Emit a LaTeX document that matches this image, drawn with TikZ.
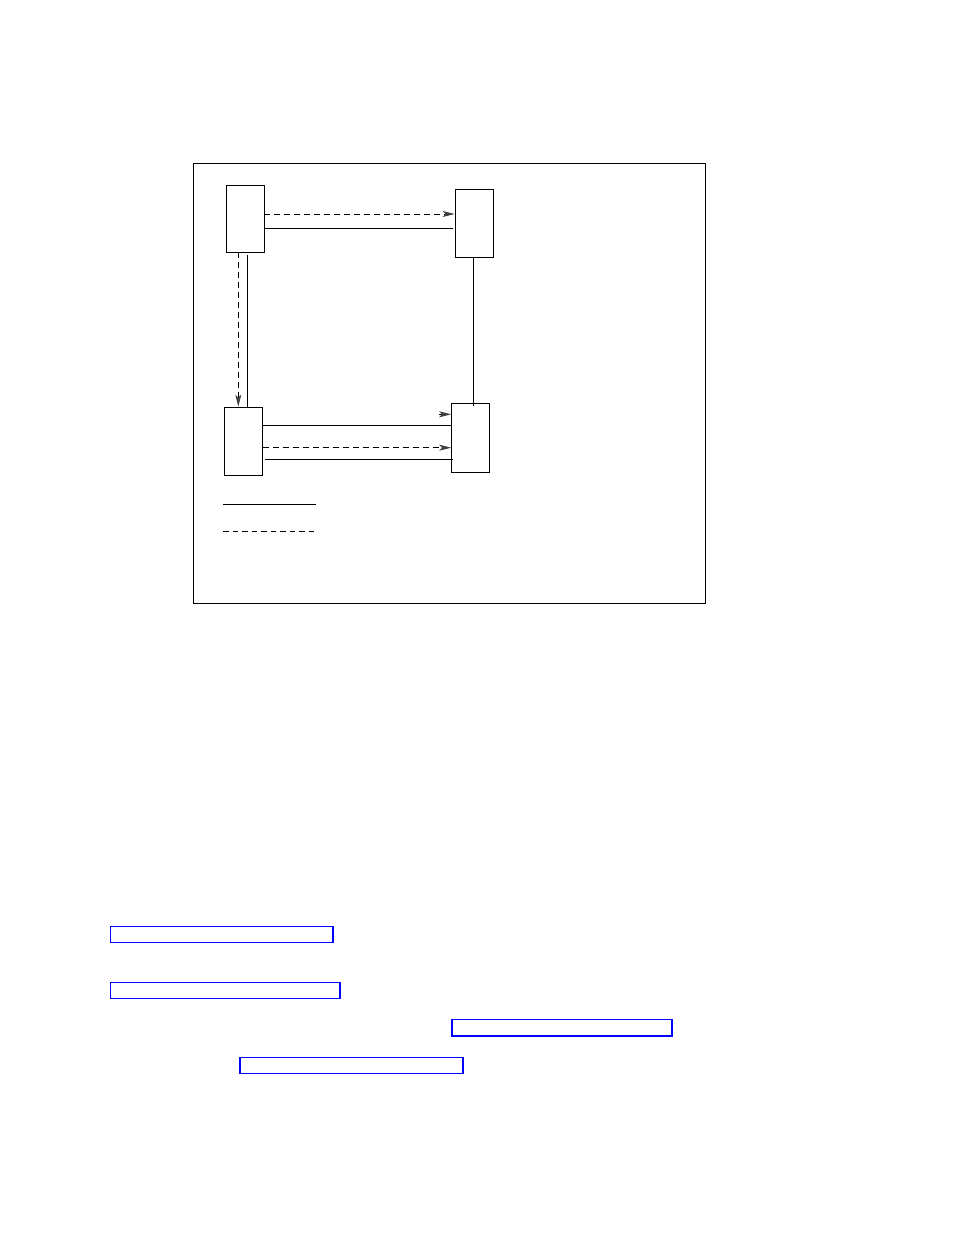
\documentclass[tikz,border=0pt]{standalone}
\usetikzlibrary{arrows.meta}
\begin{document}
\begin{tikzpicture}[x=1pt,y=-1pt,
  conn/.style={line width=0.8pt,black},
  dashconn/.style={line width=0.8pt,black,dash pattern=on 6pt off 4pt},
  arr/.style={-{Stealth[length=12pt,width=6pt,inset=3pt,color=black!75,fill=black!75]}},
  unit/.style={draw,line width=0.8pt,inner sep=0pt,minimum width=38pt},
  linkbox/.style={draw=blue,line width=1.8pt}]
\useasboundingbox (0,0) rectangle (954,1235);
\fill[white] (0,0) rectangle (954,1235);
% frame
\draw[line width=0.8pt] (193,163) rectangle (705,603);
% units
\node[unit,minimum height=67pt] (A) at (245,218.5) {};
\node[unit,minimum height=68pt] (B) at (474,223) {};
\node[unit,minimum width=37.5pt,minimum height=68pt] (C) at (243.5,441) {};
\node[unit,minimum height=69pt] (D) at (470.5,437.75) {};
% helper coordinates
\coordinate (h1) at (0,214);
\coordinate (h2) at (0,228.3);
\coordinate (h3) at (0,414.3);
\coordinate (h4) at (0,425.3);
\coordinate (h5) at (0,447.7);
\coordinate (h6) at (0,459.3);
\coordinate (v1) at (238.3,0);
\coordinate (v2) at (247.3,0);
\coordinate (v3) at (473.3,0);
\coordinate (s1) at (439.3,414.3);
\coordinate (e2) at (453.3,228.3);
\coordinate (e6a) at (264.7,459.3);
\coordinate (e6b) at (453.3,459.3);
\coordinate (t2) at (247.3,255);
\coordinate (b3) at (473.3,405.7);
% top connectors
\draw[dashconn,arr] (A.east |- h1) -- (B.west |- h1);
\draw[conn] (A.east |- h2) -- (e2);
% left verticals
\draw[dashconn,arr] (v1 |- A.south) -- (v1 |- C.north);
\draw[conn] (t2) -- (v2 |- C.north);
% right vertical
\draw[conn] (v3 |- B.south) -- (b3);
% bottom connectors
\draw[conn,arr] (s1) -- (D.west |- h3);
\draw[conn] (C.east |- h4) -- (D.west |- h4);
\draw[dashconn,arr] (C.east |- h5) -- (D.west |- h5);
\draw[conn] (e6a) -- (e6b);
% legend
\coordinate (l1a) at (223.3,504);
\coordinate (l1b) at (316,504);
\coordinate (l2a) at (223.3,531);
\coordinate (l2b) at (317,531);
\draw[conn] (l1a) -- (l1b);
\draw[line width=0.8pt,dash pattern=on 5.5pt off 4pt] (l2a) -- (l2b);
% link boxes
\draw[linkbox] (110.5,926.5) rectangle (333,942.5);
\draw[linkbox] (110.5,982.5) rectangle (340,998.5);
\draw[linkbox] (452,1019.5) rectangle (672,1036);
\draw[linkbox] (240,1057.5) rectangle (463,1073.5);
\end{tikzpicture}
\end{document}
